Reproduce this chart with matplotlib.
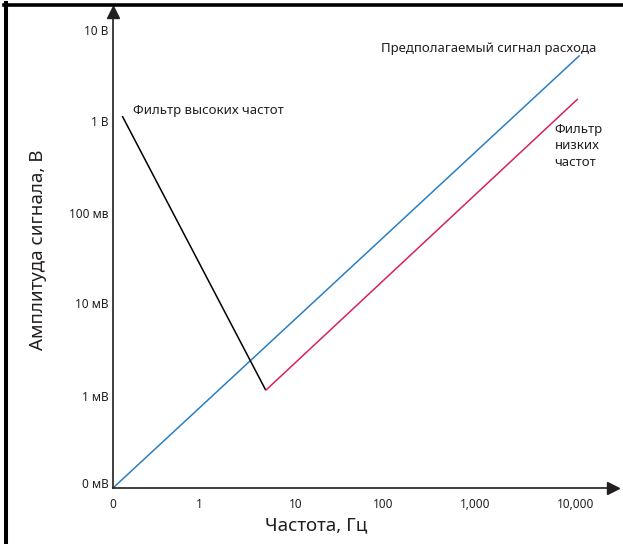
import matplotlib
matplotlib.use('Agg')
import matplotlib.pyplot as plt

plt.rcParams['font.family'] = ['Noto Sans', 'DejaVu Sans']

# axis positions are decade indices (as drawn, slightly uneven), labels are the printed values
x_ticks = [0, 0.93, 1.97, 2.92, 3.91, 5.0]
x_labels = ['0', '1', '10', '100', '1,000', '10,000']
y_ticks = [0.055, 1.02, 2.04, 3.04, 4.06, 5.06]
y_labels = ['0 мВ', '1 мВ', '10 мВ', '100 мв', '1 В', '10 В']

# lines (in decade units)
flow_x = [0.0, 5.04]
flow_y = [0.0, 4.78]
hpf_x = [0.10, 1.65]
hpf_y = [4.11, 1.08]
lpf_x = [1.65, 5.02]
lpf_y = [1.08, 4.30]

ink = '#231f20'
blue = '#2a7fc3'
red = '#d7225d'

W, H = 623, 544
fig = plt.figure(figsize=(W / 100, H / 100), dpi=100)
ax = fig.add_axes([113 / W, (H - 488) / H, (613 - 113) / W, (488 - 12) / H])

ax.plot(flow_x, flow_y, color=blue, lw=1.1, solid_capstyle='butt')
ax.plot(hpf_x, hpf_y, color='black', lw=1.1, solid_capstyle='butt')
ax.plot(lpf_x, lpf_y, color=red, lw=1.1, solid_capstyle='butt')

ax.set_xlim(0, 500 / 92.6)
ax.set_ylim(0, 476 / 90.5)

for s in ['top', 'right']:
    ax.spines[s].set_visible(False)
for s in ['left', 'bottom']:
    ax.spines[s].set_color(ink)
    ax.spines[s].set_linewidth(1.2)

# arrow heads
ax.plot(1, 0, marker='>', color=ink, ms=8, transform=ax.transAxes, clip_on=False)
ax.plot(0, 1, marker='^', color=ink, ms=8, transform=ax.transAxes, clip_on=False)

ax.set_xticks(x_ticks)
ax.set_xticklabels(x_labels)
ax.set_yticks(y_ticks)
ax.set_yticklabels(y_labels)
ax.tick_params(length=0, labelsize=8.5, labelcolor=ink)
ax.tick_params(axis='x', pad=7)
ax.tick_params(axis='y', pad=3)

ax.text(4.06, 4.86, 'Предполагаемый сигнал расхода', ha='center', va='center',
        fontsize=9.5, color=ink)
ax.text(0.216, 4.17, 'Фильтр высоких частот', ha='left', va='center',
        fontsize=9.5, color=ink)
ax.text(4.77, 3.78, 'Фильтр\nнизких\nчастот', ha='left', va='center',
        fontsize=9.5, color=ink, linespacing=1.35)

fig.text(38 / W, 1 - 250 / H, 'Амплитуда сигнала, В', rotation=90,
         ha='center', va='center', fontsize=13.5, color=ink)
fig.text(316 / W, 1 - 525 / H, 'Частота, Гц', ha='center', va='center',
         fontsize=13.5, color=ink)

# frame pieces at top and left edge
fig.add_artist(plt.Line2D([4 / W, 1], [1 - 4.5 / H, 1 - 4.5 / H],
                          color='black', lw=2.6, transform=fig.transFigure))
fig.add_artist(plt.Line2D([6 / W, 6 / W], [0, 1 - 3 / H],
                          color='black', lw=2.9, transform=fig.transFigure))

fig.savefig('out.png', dpi=100)
